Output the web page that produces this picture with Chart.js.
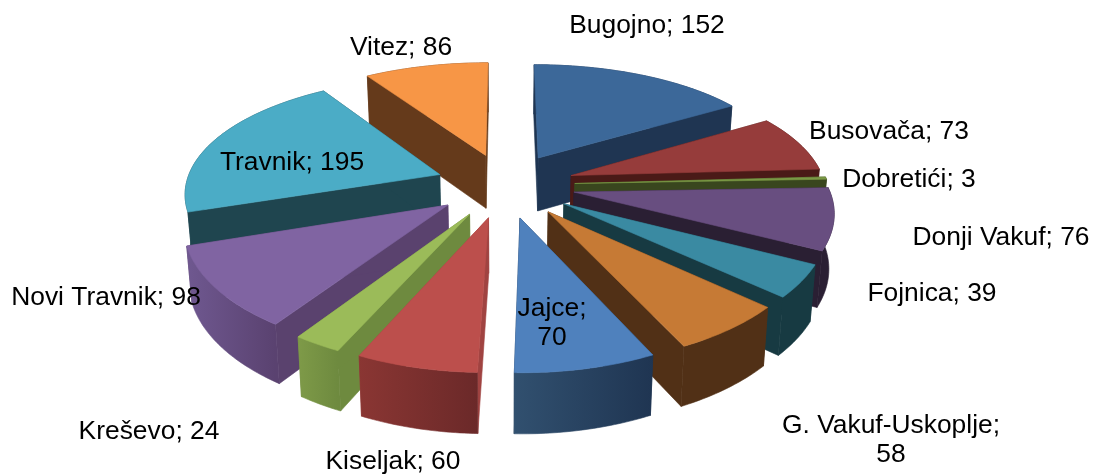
<!DOCTYPE html>
<html><head><meta charset="utf-8">
<style>html,body{margin:0;padding:0;background:#fff}canvas{display:block}</style>
<script src="https://cdn.jsdelivr.net/npm/chart.js@4"></script>
</head><body><canvas id="c" width="1094" height="474"></canvas>
<script>
const categories = ["Bugojno","Busovača","Dobretići","Donji Vakuf","Fojnica","G. Vakuf-Uskoplje","Jajce","Kiseljak","Kreševo","Novi Travnik","Travnik","Vitez"];
const values = [152,73,3,76,39,58,70,60,24,98,195,86];
const topColors = ["#3C6899","#963C3B","#7A9845","#684E80","#3A8AA2","#C67A35","#4F81BD","#BC4F4C","#9BBB59","#8064A2","#4BACC6","#F79646"];
const cutColors = ["#1F3552","#4A1A17","#39461E","#2A1F33","#173A42","#513016","#1F3552","#A04341","#6E8A3F","#5A426E","#1F454F","#653A1B"];
const wallStart = ["#1F3552","#4A1A17","#39461E","#2A1F33","#173A42","#513016","#31506F","#8A3633","#7E9A48","#6F5890","#1F454F","#653A1B"];
const wallEnd   = ["#1F3552","#4A1A17","#39461E","#2A1F33","#173A42","#513016","#1F3552","#6B2929","#6E8A3F","#5A4270","#1F454F","#653A1B"];
const labelLines = [["Bugojno; 152"],["Busovača; 73"],["Dobretići; 3"],["Donji Vakuf; 76"],["Fojnica; 39"],["G. Vakuf-Uskoplje;","58"],["Jajce;","70"],["Kiseljak; 60"],["Kreševo; 24"],["Novi Travnik; 98"],["Travnik; 195"],["Vitez; 86"]];
const labelAnchors = [[647,26],[889,132],[909,180],[1001,238],[932,294],[891,426],[552,309],[393,462],[149,432],[106,298],[292,163],[401,48]];

const view = {cx:505, cy:185, px:0.00055, py:0.00065, q:0.46, depth:54, converge:0.0003, zGrow:0.5};
function project(u,v,z){
  const wx = 1/(1-view.px*v), wy = 1/(1-view.py*v);
  return [view.cx+u*wx*(1-view.converge*z), view.cy+view.q*v*wy+z*(1+(wy-1)*view.zGrow)];
}
const pie3d = {
  id:'pie3d',
  beforeDatasetDraw(chart){
    const ctx = chart.ctx, arcs = chart.getDatasetMeta(0).data;
    const off = chart.data.datasets[0].offset;
    const order = arcs.map((a,i)=>i).sort((i,j)=>{
      const m=k=>Math.sin((arcs[k].startAngle+arcs[k].endAngle)/2);
      return m(i)-m(j);
    });
    const poly=(pts,fill)=>{
      ctx.beginPath();pts.forEach((p,i)=>i?ctx.lineTo(p[0],p[1]):ctx.moveTo(p[0],p[1]));ctx.closePath();
      ctx.fillStyle=fill;ctx.fill();ctx.strokeStyle=fill;ctx.lineWidth=0.6;ctx.stroke();
    };
    order.forEach(i=>{
      const a=arcs[i], mid=(a.startAngle+a.endAngle)/2, R=a.outerRadius;
      const ox=off*Math.cos(mid), oy=off*Math.sin(mid);
      const n=Math.max(2,Math.ceil((a.endAngle-a.startAngle)/0.015));
      const rim=[];
      for(let k=0;k<=n;k++){const t=a.startAngle+(a.endAngle-a.startAngle)*k/n;rim.push([ox+R*Math.cos(t),oy+R*Math.sin(t)]);}
      const apexT=project(ox,oy,0), apexB=project(ox,oy,view.depth);
      const T=rim.map(r=>project(r[0],r[1],0)), B=rim.map(r=>project(r[0],r[1],view.depth));
      poly([apexT,T[0],B[0],apexB],cutColors[i]);
      poly([apexT,T[n],B[n],apexB],cutColors[i]);
      const g=ctx.createLinearGradient(Math.min(T[0][0],T[n][0]),0,Math.max(T[0][0],T[n][0]),0);
      g.addColorStop(0,wallStart[i]);g.addColorStop(1,wallEnd[i]);
      poly(T.concat(B.slice().reverse()),g);
      poly([apexT].concat(T),topColors[i]);
    });
    return false;
  }
};
const labels3d = {
  id:'labels3d',
  afterDraw(chart){
    const ctx=chart.ctx;
    ctx.save();ctx.font='26.4px "Liberation Sans", Arial, sans-serif';ctx.fillStyle='#000';ctx.textAlign='center';ctx.textBaseline='middle';
    labelLines.forEach((ls,i)=>{ls.forEach((t,k)=>ctx.fillText(t,labelAnchors[i][0],labelAnchors[i][1]+k*29));});
    ctx.restore();
  }
};
new Chart(document.getElementById('c'),{
  type:'pie',
  data:{labels:categories,datasets:[{data:values,backgroundColor:topColors,offset:70,borderWidth:0}]},
  options:{responsive:false,animation:false,rotation:0,radius:254,
    layout:{padding:0},plugins:{legend:{display:false},tooltip:{enabled:false}}},
  plugins:[pie3d,labels3d]
});
</script></body></html>
